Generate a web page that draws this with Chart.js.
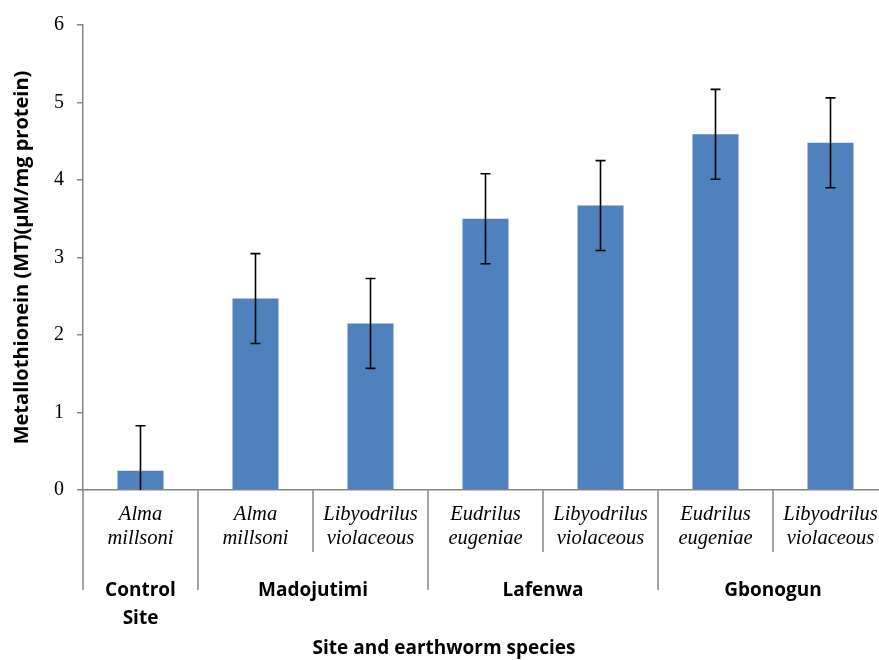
<!DOCTYPE html>
<html>
<head>
<meta charset="utf-8">
<script src="https://cdn.jsdelivr.net/npm/chart.js@4"></script>
<style>
  body { margin: 0; overflow: hidden; background: #fff; }
  #wrap { width: 900px; height: 660px; }
</style>
</head>
<body>
<div id="wrap"><canvas id="chart"></canvas></div>
<script>
// species under each bar, and the site each belongs to
const species = [
  ['Alma', 'millsoni'],
  ['Alma', 'millsoni'],
  ['Libyodrilus', 'violaceous'],
  ['Eudrilus', 'eugeniae'],
  ['Libyodrilus', 'violaceous'],
  ['Eudrilus', 'eugeniae'],
  ['Libyodrilus', 'violaceous']
];
const sites = ['Control Site', 'Madojutimi', 'Madojutimi', 'Lafenwa', 'Lafenwa', 'Gbonogun', 'Gbonogun'];
const mtValues = [0.25, 2.47, 2.15, 3.50, 3.67, 4.59, 4.48];
const mtErrors = [0.58, 0.58, 0.58, 0.58, 0.58, 0.58, 0.58];

const axisGrey = '#868686';
const boldFont = '"Open Sans", Lato, sans-serif';
const serifFont = '"Liberation Serif", "Times New Roman", serif';

// draws error bars, category separators and the site labels
const extras = {
  id: 'extras',
  afterDraw(chart) {
    const ctx = chart.ctx;
    const x = chart.scales.x, y = chart.scales.y;
    const area = chart.chartArea;
    const n = species.length;

    // error bars
    ctx.save();
    ctx.beginPath();
    ctx.rect(area.left, area.top - 10, area.right - area.left, area.bottom - area.top + 10);
    ctx.clip();
    ctx.strokeStyle = '#000';
    ctx.lineWidth = 1.6;
    mtValues.forEach((v, i) => {
      const px = x.getPixelForValue(i);
      const hi = y.getPixelForValue(v + mtErrors[i]);
      const lo = y.getPixelForValue(v - mtErrors[i]);
      ctx.beginPath();
      ctx.moveTo(px, hi); ctx.lineTo(px, lo);
      ctx.moveTo(px - 5, hi); ctx.lineTo(px + 5, hi);
      ctx.moveTo(px - 5, lo); ctx.lineTo(px + 5, lo);
      ctx.stroke();
    });
    ctx.restore();

    // separators below the axis
    ctx.save();
    ctx.strokeStyle = axisGrey;
    ctx.lineWidth = 1.5;
    const base = area.bottom;
    for (let i = 0; i <= n; i++) {
      let bx;
      if (i === 0) bx = area.left;
      else if (i === n) bx = area.right;
      else bx = (x.getPixelForValue(i - 1) + x.getPixelForValue(i)) / 2;
      const groupEdge = i === 0 || i === n || sites[i] !== sites[i - 1];
      ctx.beginPath();
      ctx.moveTo(bx, base);
      ctx.lineTo(bx, base + (groupEdge ? 100 : 62));
      ctx.stroke();
    }
    ctx.restore();

    // site labels
    ctx.save();
    ctx.fillStyle = '#000';
    ctx.font = 'bold 19px ' + boldFont;
    ctx.textAlign = 'center';
    ctx.textBaseline = 'middle';
    let start = 0;
    for (let i = 1; i <= n; i++) {
      if (i === n || sites[i] !== sites[start]) {
        const left = start === 0 ? area.left : (x.getPixelForValue(start - 1) + x.getPixelForValue(start)) / 2;
        const right = i === n ? area.right : (x.getPixelForValue(i - 1) + x.getPixelForValue(i)) / 2;
        const cx = (left + right) / 2;
        const words = sites[start] === 'Control Site' ? ['Control', 'Site'] : [sites[start]];
        words.forEach((w, k) => ctx.fillText(w, cx, base + 101 + k * 28));
        start = i;
      }
    }
    ctx.restore();
  }
};

new Chart(document.getElementById('chart'), {
  type: 'bar',
  data: {
    labels: species,
    datasets: [{
      label: 'MT',
      data: mtValues,
      backgroundColor: '#4F81BD',
      borderWidth: 0,
      barPercentage: 0.4,
      categoryPercentage: 1
    }]
  },
  options: {
    responsive: true,
    maintainAspectRatio: false,
    animation: false,
    layout: { padding: { top: 20, right: 12, left: 0, bottom: 0 } },
    plugins: {
      legend: { display: false },
      tooltip: { enabled: false },
      title: {
        display: true,
        position: 'bottom',
        text: 'Site and earthworm species',
        color: '#000',
        font: { family: boldFont, size: 19, weight: 'bold', lineHeight: 1.2 },
        padding: { top: 5, bottom: 0 }
      }
    },
    scales: {
      x: {
        grid: { display: false, drawTicks: false },
        border: { color: axisGrey, width: 1.5 },
        ticks: {
          color: '#000',
          autoSkip: false,
          maxRotation: 0,
          padding: 12,
          font: { family: serifFont, size: 20.5, style: 'italic', lineHeight: 1.2 }
        },
        afterFit(scale) { scale.height = 142.2; }
      },
      y: {
        min: 0,
        max: 6,
        grid: { drawOnChartArea: false, tickLength: 6, color: axisGrey, lineWidth: 1.5 },
        border: { color: axisGrey, width: 1.5 },
        ticks: {
          stepSize: 1,
          color: '#000',
          padding: 13,
          font: { family: serifFont, size: 20 }
        },
        title: {
          display: true,
          text: 'Metallothionein (MT)(µM/mg protein)',
          color: '#000',
          font: { family: boldFont, size: 20, weight: 'bold', lineHeight: 1.2 },
          padding: { top: 10, bottom: 0 }
        },
        afterFit(scale) { scale.width = 83; }
      }
    }
  },
  plugins: [extras]
});
</script>
</body>
</html>
